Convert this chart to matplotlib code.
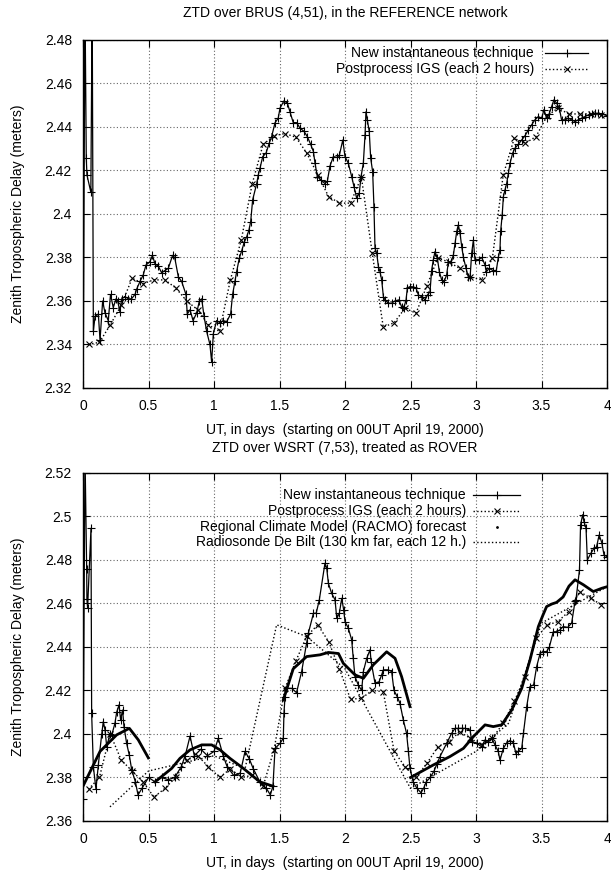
import matplotlib
matplotlib.use("Agg")
import matplotlib.pyplot as plt
from matplotlib.lines import Line2D

plt.rcParams['font.family'] = ['Liberation Sans', 'DejaVu Sans']
plt.rcParams['font.size'] = 10

# ---------------- data: top panel (BRUS) ----------------
top_new_x = [0.0, 0.015, 0.025, 0.03, 0.06, 0.07, 0.079, 0.092, 0.117, 0.13, 0.15, 0.168, 0.193, 0.21, 0.231,
             0.252, 0.265, 0.282, 0.295, 0.321, 0.346, 0.37, 0.397, 0.41, 0.435, 0.46, 0.481, 0.511, 0.53, 0.55,
             0.575, 0.60, 0.626, 0.651, 0.684, 0.70, 0.728, 0.753, 0.786, 0.796, 0.817, 0.84, 0.868, 0.888, 0.906,
             0.924, 0.944, 0.969, 0.982, 0.995, 1.02, 1.045, 1.07, 1.097, 1.127, 1.142, 1.16, 1.173, 1.193, 1.211,
             1.231, 1.25, 1.267, 1.28, 1.295, 1.326, 1.338, 1.351, 1.372, 1.397, 1.422, 1.44, 1.466, 1.49, 1.504,
             1.534, 1.56, 1.58, 1.605, 1.631, 1.656, 1.687, 1.712, 1.738, 1.759, 1.771, 1.789, 1.815, 1.847, 1.865,
             1.885, 1.911, 1.937, 1.957, 1.983, 2.0, 2.025, 2.051, 2.069, 2.089, 2.109, 2.122, 2.14, 2.153, 2.16,
             2.17, 2.185, 2.196, 2.211, 2.221, 2.229, 2.242, 2.255, 2.267, 2.28, 2.293, 2.305, 2.33, 2.356, 2.38,
             2.41, 2.432, 2.45, 2.466, 2.476, 2.496, 2.52, 2.542, 2.56, 2.585, 2.611, 2.63, 2.649, 2.661, 2.674,
             2.687, 2.705, 2.72, 2.738, 2.756, 2.776, 2.789, 2.81, 2.827, 2.84, 2.853, 2.865, 2.878, 2.891, 2.904,
             2.924, 2.942, 2.955, 2.967, 2.98, 2.992, 3.02, 3.043, 3.069, 3.08, 3.1, 3.13, 3.155, 3.17, 3.183,
             3.188, 3.2, 3.209, 3.221, 3.234, 3.247, 3.26, 3.28, 3.298, 3.323, 3.349, 3.374, 3.4, 3.425, 3.45,
             3.476, 3.501, 3.519, 3.539, 3.558, 3.577, 3.595, 3.615, 3.636, 3.653, 3.68, 3.705, 3.73, 3.756, 3.78,
             3.81, 3.832, 3.86, 3.885, 3.91, 3.935, 3.96, 4.0]
top_new_y = [2.300, 2.500, 2.4258, 2.418, 2.410, 2.500, 2.346, 2.353, 2.354, 2.342, 2.360, 2.3545, 2.351, 2.363, 2.357,
             2.361, 2.360, 2.355, 2.361, 2.362, 2.361, 2.361, 2.363, 2.3655, 2.369, 2.372, 2.3766, 2.378, 2.381, 2.377,
             2.376, 2.373, 2.374, 2.375, 2.381, 2.380, 2.371, 2.369, 2.363, 2.354, 2.356, 2.351, 2.3545, 2.360, 2.361,
             2.353, 2.346, 2.340, 2.332, 2.345, 2.351, 2.350, 2.351, 2.3505, 2.354, 2.363, 2.369, 2.3735, 2.3797, 2.383,
             2.387, 2.3896, 2.3927, 2.3965, 2.4065, 2.414, 2.418, 2.421, 2.4264, 2.428, 2.4326, 2.4356, 2.442, 2.444, 2.4487,
             2.452, 2.451, 2.447, 2.442, 2.442, 2.4395, 2.438, 2.4356, 2.432, 2.4287, 2.4234, 2.4172, 2.4157, 2.414, 2.415,
             2.422, 2.4264, 2.426, 2.427, 2.434, 2.4264, 2.4234, 2.4172, 2.4126, 2.4073, 2.4096, 2.417, 2.4234, 2.4364, 2.447,
             2.4433, 2.438, 2.4257, 2.4195, 2.4034, 2.3843, 2.382, 2.3758, 2.3735, 2.3697, 2.362, 2.3605, 2.359, 2.359, 2.360,
             2.3605, 2.3574, 2.357, 2.3605, 2.366, 2.3666, 2.3665, 2.366, 2.3628, 2.362, 2.3605, 2.3628, 2.3643, 2.374, 2.3789,
             2.3827, 2.3797, 2.3735, 2.3697, 2.3689, 2.372, 2.378, 2.378, 2.381, 2.3866, 2.392, 2.395, 2.3912, 2.385, 2.380,
             2.375, 2.371, 2.371, 2.382, 2.388, 2.379, 2.379, 2.380, 2.3766, 2.3735, 2.375, 2.374, 2.374, 2.380, 2.3835,
             2.392, 2.3996, 2.408, 2.411, 2.414, 2.4188, 2.4234, 2.428, 2.4303, 2.432, 2.434, 2.436, 2.4387, 2.441, 2.4433,
             2.4448, 2.444, 2.448, 2.444, 2.446, 2.4494, 2.4525, 2.451, 2.4487, 2.4433, 2.4433, 2.444, 2.4433, 2.4425, 2.4433,
             2.444, 2.4448, 2.4456, 2.446, 2.4463, 2.4463, 2.446, 2.4452]

igs_x = [0.042, 0.125, 0.208, 0.292, 0.375, 0.458, 0.542, 0.625, 0.708, 0.792, 0.875, 0.958, 1.042, 1.125, 1.208,
         1.292, 1.375, 1.458, 1.542, 1.625, 1.708, 1.792, 1.875, 1.958, 2.042, 2.125, 2.208, 2.292, 2.375, 2.458,
         2.542, 2.625, 2.708, 2.792, 2.875, 2.958, 3.042, 3.125, 3.208, 3.292, 3.375, 3.458, 3.542, 3.625, 3.708,
         3.792, 3.875, 3.958]
top_igs_y = [2.340, 2.341, 2.349, 2.358, 2.3705, 2.368, 2.3697, 2.3697, 2.366, 2.360, 2.356, 2.349, 2.346, 2.3697, 2.388,
             2.414, 2.432, 2.436, 2.437, 2.4353, 2.428, 2.418, 2.408, 2.405, 2.405, 2.417, 2.382, 2.348, 2.350, 2.3567,
             2.3544, 2.367, 2.3797, 2.378, 2.375, 2.371, 2.3697, 2.3797, 2.418, 2.4348, 2.4325, 2.4356, 2.445, 2.4487, 2.446,
             2.446, 2.446, 2.4455]

# ---------------- data: bottom panel (WSRT) ----------------
bot_new_x = [0.0, 0.015, 0.028, 0.03, 0.035, 0.061, 0.066, 0.079, 0.099, 0.117, 0.143, 0.155, 0.168, 0.181, 0.206,
             0.22, 0.244, 0.257, 0.275, 0.287, 0.302, 0.313, 0.333, 0.353, 0.372, 0.40, 0.42, 0.45, 0.50, 0.55,
             0.60, 0.65, 0.70, 0.75, 0.78, 0.817, 0.85, 0.90, 0.95, 1.0, 1.033, 1.07, 1.10, 1.15, 1.20,
             1.237, 1.27, 1.30, 1.35, 1.40, 1.43, 1.45, 1.466, 1.504, 1.529, 1.534, 1.542, 1.555, 1.593, 1.63,
             1.669, 1.707, 1.72, 1.759, 1.78, 1.804, 1.847, 1.86, 1.873, 1.898, 1.924, 1.937, 1.957, 1.975, 1.99,
             2.0, 2.025, 2.051, 2.063, 2.076, 2.101, 2.127, 2.14, 2.166, 2.191, 2.2, 2.229, 2.26, 2.28, 2.293,
             2.33, 2.356, 2.374, 2.4, 2.42, 2.445, 2.47, 2.484, 2.496, 2.52, 2.55, 2.58, 2.60, 2.62, 2.65,
             2.68, 2.70, 2.725, 2.776, 2.814, 2.84, 2.865, 2.89, 2.916, 2.955, 2.967, 3.005, 3.043, 3.069, 3.095,
             3.12, 3.145, 3.17, 3.183, 3.209, 3.235, 3.26, 3.285, 3.305, 3.32, 3.349, 3.362, 3.387, 3.412, 3.44,
             3.463, 3.489, 3.51, 3.539, 3.56, 3.59, 3.615, 3.64, 3.665, 3.70, 3.73, 3.756, 3.763, 3.79, 3.798,
             3.814, 3.824, 3.84, 3.85, 3.876, 3.90, 3.92, 3.94, 3.96, 3.977, 3.998]
bot_new_y = [2.370, 2.530, 2.476, 2.462, 2.458, 2.4946, 2.4095, 2.385, 2.3746, 2.3858, 2.400, 2.4057, 2.4019, 2.3942, 2.400,
             2.3996, 2.405, 2.410, 2.4134, 2.4065, 2.411, 2.4034, 2.3957, 2.3904, 2.3835, 2.378, 2.372, 2.375, 2.380, 2.378,
             2.380, 2.379, 2.380, 2.385, 2.390, 2.399, 2.390, 2.393, 2.390, 2.392, 2.398, 2.390, 2.385, 2.381, 2.382,
             2.392, 2.3885, 2.384, 2.378, 2.375, 2.372, 2.376, 2.3934, 2.3957, 2.398, 2.4095, 2.417, 2.421, 2.421, 2.419,
             2.4287, 2.4417, 2.4463, 2.4555, 2.4555, 2.4617, 2.4785, 2.4765, 2.4693, 2.4647, 2.4617, 2.4532, 2.4555, 2.4624, 2.457,
             2.4517, 2.4487, 2.4433, 2.4348, 2.4264, 2.4226, 2.420, 2.4287, 2.4348, 2.4387, 2.433, 2.4234, 2.424, 2.4272, 2.4295,
             2.4295, 2.4287, 2.420, 2.417, 2.414, 2.4065, 2.4003, 2.392, 2.3842, 2.378, 2.375, 2.373, 2.375, 2.378, 2.380,
             2.383, 2.386, 2.3896, 2.3957, 2.4003, 2.4026, 2.4026, 2.4026, 2.4026, 2.4018, 2.3965, 2.3957, 2.3942, 2.3973, 2.3965,
             2.398, 2.395, 2.392, 2.388, 2.3934, 2.396, 2.397, 2.396, 2.391, 2.392, 2.3934, 2.4003, 2.4126, 2.4218, 2.4226,
             2.431, 2.437, 2.4379, 2.4379, 2.440, 2.447, 2.447, 2.4478, 2.4494, 2.449, 2.451, 2.461, 2.4617, 2.4755, 2.496,
             2.5008, 2.4977, 2.4946, 2.480, 2.483, 2.4853, 2.486, 2.4915, 2.488, 2.4824, 2.4816]

bot_igs_y = [2.3746, 2.380, 2.400, 2.388, 2.383, 2.378, 2.371, 2.375, 2.380, 2.388, 2.390, 2.385, 2.380, 2.384, 2.380,
             2.381, 2.376, 2.3927, 2.421, 2.4336, 2.445, 2.4502, 2.4425, 2.4298, 2.416, 2.4164, 2.420, 2.4195, 2.392, 2.385,
             2.380, 2.3865, 2.394, 2.3965, 2.401, 2.398, 2.395, 2.398, 2.405, 2.415, 2.4264, 2.444, 2.450, 2.4517, 2.4563,
             2.4655, 2.4624, 2.4594]

racmo_x = [[0.0, 0.13, 0.257, 0.354, 0.422, 0.499],
           [0.55, 0.677, 0.74, 0.817, 0.906, 0.982, 1.046, 1.122, 1.224, 1.35, 1.45],
           [1.529, 1.605, 1.707, 1.809, 1.873, 1.95, 1.987, 2.076, 2.14, 2.216, 2.318, 2.382, 2.432, 2.496],
           [2.5, 2.675, 2.8, 2.904, 2.98, 3.069, 3.132, 3.196, 3.272, 3.349, 3.412, 3.476, 3.51, 3.539, 3.58, 3.615,
            3.665, 3.71, 3.756, 3.82, 3.895, 3.96, 4.0]]
racmo_y = [[2.376, 2.392, 2.3996, 2.4026, 2.3973, 2.389],
           [2.378, 2.3842, 2.3888, 2.3927, 2.395, 2.395, 2.3927, 2.3888, 2.3842, 2.378, 2.376],
           [2.4157, 2.430, 2.4356, 2.4364, 2.4375, 2.437, 2.4325, 2.4272, 2.4256, 2.4318, 2.4378, 2.4348, 2.4264, 2.4126],
           [2.380, 2.3858, 2.3896, 2.3934, 2.3988, 2.4042, 2.4034, 2.4042, 2.411, 2.421, 2.434, 2.4494, 2.4545, 2.4586,
            2.4598, 2.4605, 2.463, 2.468, 2.4709, 2.4686, 2.4655, 2.467, 2.4677]]

sonde_x = [0.206, 0.5, 1.0, 1.237, 1.478, 1.707, 2.0, 2.5, 3.0, 3.25, 3.5, 4.0]
sonde_y = [2.3665, 2.383, 2.390, 2.384, 2.4502, 2.4448, 2.430, 2.375, 2.392, 2.405, 2.451, 2.4677]

top_yticks = [2.32, 2.34, 2.36, 2.38, 2.40, 2.42, 2.44, 2.46, 2.48]
bot_yticks = [2.36, 2.38, 2.40, 2.42, 2.44, 2.46, 2.48, 2.50, 2.52]
xticks = [0, 0.5, 1, 1.5, 2, 2.5, 3, 3.5, 4]

titles = ["ZTD over BRUS (4,51), in the REFERENCE network", "ZTD over WSRT (7,53), treated as ROVER"]
xlabel = "UT, in days  (starting on 00UT April 19, 2000)"
ylabel = "Zenith Tropospheric Delay (meters)"
leg_top = ["New instantaneous technique", "Postprocess IGS (each 2 hours)"]
leg_bot = ["New instantaneous technique", "Postprocess IGS (each 2 hours)",
           "Regional Climate Model (RACMO) forecast", "Radiosonde De Bilt (130 km far, each 12 h.)"]

W, H = 611, 871
fig = plt.figure(figsize=(W / 100, H / 100), dpi=100)


def px_axes(l, t, r, b):
    return fig.add_axes([l / W, 1 - b / H, (r - l) / W, (b - t) / H])


def fmt(v):
    return "%g" % v


def style(ax, yt, ylim):
    ax.set_xlim(0, 4)
    ax.set_ylim(*ylim)
    ax.set_xticks(xticks)
    ax.set_xticklabels([fmt(v) for v in xticks])
    ax.set_yticks(yt)
    ax.set_yticklabels([fmt(v) for v in yt])
    ax.tick_params(direction='in', top=True, right=True, length=5, width=0.8, labelsize=10, pad=8)
    ax.grid(True, linestyle=(0, (1, 2)), color='#666666', linewidth=0.8)
    for s in ax.spines.values():
        s.set_linewidth(1.0)
    ax.set_ylabel(ylabel, fontsize=10, labelpad=14)


ax1 = px_axes(83, 40, 607, 388)
style(ax1, top_yticks, (2.32, 2.48))
ax1.plot(top_new_x, top_new_y, '-', color='black', lw=0.9, marker='+', ms=6, mew=0.8)
ax1.plot(igs_x, top_igs_y, ':', color='black', lw=1.0, marker='x', ms=4.5, mew=0.8)
ax1.set_xlabel(xlabel, fontsize=10, labelpad=7)

ax2 = px_axes(83, 473, 607, 821)
style(ax2, bot_yticks, (2.36, 2.52))
ax2.plot(bot_new_x, bot_new_y, '-', color='black', lw=0.9, marker='+', ms=6, mew=0.8)
ax2.plot(igs_x, bot_igs_y, ':', color='black', lw=1.0, marker='x', ms=4.5, mew=0.8)
for xs, ys in zip(racmo_x, racmo_y):
    ax2.plot(xs, ys, '-', color='black', lw=2.0)
ax2.plot(sonde_x, sonde_y, ':', color='black', lw=1.0)
ax2.set_xlabel(xlabel, fontsize=10, labelpad=7)

fig.text(345 / W, 1 - 13 / H, titles[0], ha='center', va='center', fontsize=10)
fig.text(345 / W, 1 - 448 / H, titles[1], ha='center', va='center', fontsize=10)


def manual_legend(labels, handles, text_right, x0, x1, ys):
    for lab, h, y in zip(labels, handles, ys):
        yy = 1 - y / H
        fig.text(text_right / W, yy, lab, ha='right', va='center', fontsize=10)
        ln = Line2D([x0 / W, x1 / W], [yy, yy], transform=fig.transFigure, color='black', **h['line'])
        fig.add_artist(ln)
        if h.get('marker'):
            mk = Line2D([(x0 + x1) / 2 / W], [yy], transform=fig.transFigure, color='black',
                        linestyle='none', **h['marker'])
            fig.add_artist(mk)


h_new = {'line': dict(linestyle='-', lw=0.9), 'marker': dict(marker='+', ms=6, mew=0.8)}
h_igs = {'line': dict(linestyle=':', lw=1.0), 'marker': dict(marker='x', ms=4.5, mew=0.8)}
h_rac = {'line': dict(linestyle='none', lw=0), 'marker': dict(marker='.', ms=2)}
h_son = {'line': dict(linestyle=':', lw=1.0)}

manual_legend(leg_top, [h_new, h_igs], 534, 545, 588, [53, 69])
manual_legend(leg_bot, [h_new, h_igs, h_rac, h_son], 466, 473, 520, [495, 511, 527, 542])

fig.savefig("out.png", dpi=100)
